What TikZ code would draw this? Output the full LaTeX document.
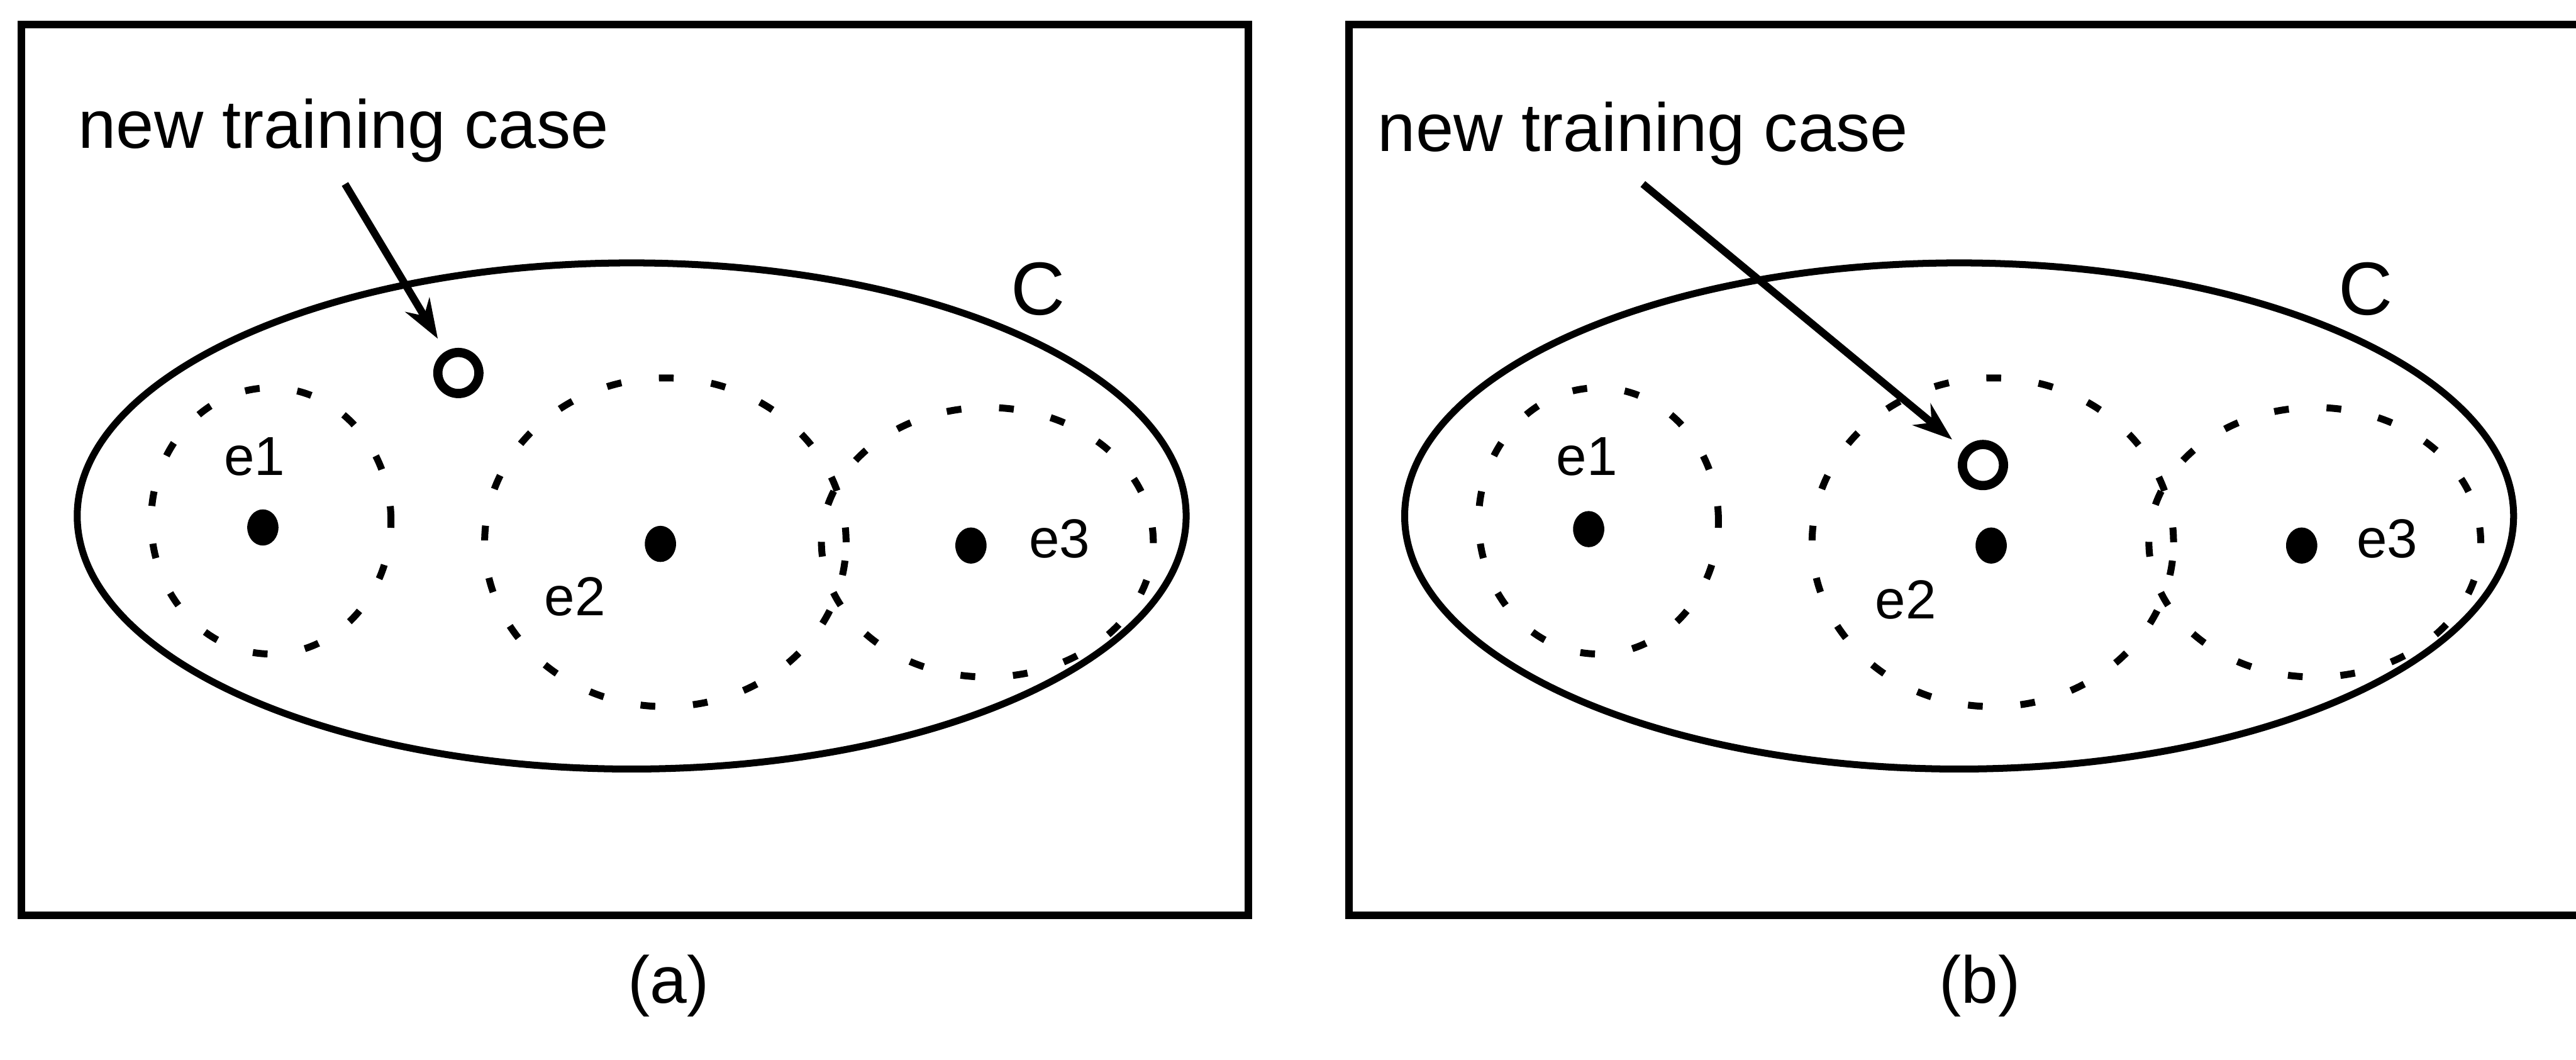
\documentclass[tikz,border=0pt]{standalone}
\usepackage{fontspec}
\setmainfont{Liberation Sans}
\usepackage{tikz}
\usetikzlibrary{arrows.meta,shapes.geometric}
\tikzset{
    panel/.style={draw=black, line width=1.3pt},
    concept/.style={ellipse, draw=black, line width=1.2pt, inner sep=0pt},
    exemplar/.style={ellipse, draw=black, line width=1.2pt, dash pattern=on 0.9mm off 2.3mm, inner sep=0pt},
    center_dot/.style={ellipse, fill=black, inner sep=0pt, minimum width=0.19cm, minimum height=0.22cm},
    newcase/.style={circle, draw=black, line width=1.6pt, inner sep=0pt, minimum size=0.25cm},
    pointer/.style={-{Stealth[length=2.4mm,width=1.7mm]}, line width=1.3pt, shorten >=0.09cm},
    caselabel/.style={font=\fontsize{11.8}{14}\selectfont, inner sep=0pt},
    elabel/.style={font=\fontsize{9.5}{11}\selectfont, inner sep=0pt},
    clabel/.style={font=\fontsize{13}{15}\selectfont, inner sep=0pt},
    caption/.style={font=\fontsize{11.5}{14}\selectfont, inner sep=0pt}
}

\begin{document}
\begin{tikzpicture}
  \useasboundingbox (0,0) rectangle (15.68,6.45);

  % Panel (a): new case outside every exemplar
  \draw[panel] (0.13,6.30) rectangle (7.60,0.88);
  \node[concept, minimum width=6.75cm, minimum height=3.08cm] (Ca) at (3.845,3.31) {};
  \node[clabel] (Clabela) at (6.32,4.69) {C};
  \node[exemplar, minimum width=1.46cm, minimum height=1.62cm] (ring1a) at (1.65,3.28) {};
  \node[exemplar, minimum width=2.20cm, minimum height=2.00cm] (ring2a) at (4.05,3.15) {};
  \node[exemplar, minimum width=2.02cm, minimum height=1.64cm] (ring3a) at (6.01,3.15) {};
  \node[center_dot] (dot1a) at (1.60,3.24) {};
  \node[center_dot] (dot2a) at (4.02,3.14) {};
  \node[center_dot] (dot3a) at (5.91,3.13) {};
  \node[elabel] (e1a) at (1.55,3.67) {e1};
  \node[elabel] (e2a) at (3.50,2.82) {e2};
  \node[elabel] (e3a) at (6.45,3.17) {e3};
  \node[caselabel, anchor=base west] (texta) at (0.47,5.55) {new training case};
  \coordinate (taila) at (2.10,5.33);
  \node[newcase] (casea) at (2.79,4.18) {};
  \draw[pointer] (taila) -- (casea);
  \node[caption] (capa) at (4.07,0.45) {(a)};

  % Panel (b): new case inside e2
  \draw[panel] (8.21,6.30) rectangle (15.80,0.88);
  \node[concept, minimum width=6.75cm, minimum height=3.08cm] (Cb) at (11.925,3.31) {};
  \node[clabel] (Clabelb) at (14.40,4.69) {C};
  \node[exemplar, minimum width=1.46cm, minimum height=1.62cm] (ring1b) at (9.73,3.28) {};
  \node[exemplar, minimum width=2.20cm, minimum height=2.00cm] (ring2b) at (12.13,3.15) {};
  \node[exemplar, minimum width=2.02cm, minimum height=1.64cm] (ring3b) at (14.09,3.15) {};
  \node[center_dot] (dot1b) at (9.67,3.23) {};
  \node[center_dot] (dot2b) at (12.12,3.13) {};
  \node[center_dot] (dot3b) at (14.01,3.13) {};
  \node[elabel] (e1b) at (9.66,3.67) {e1};
  \node[elabel] (e2b) at (11.60,2.80) {e2};
  \node[elabel] (e3b) at (14.53,3.17) {e3};
  \node[caselabel, anchor=base west] (textb) at (8.38,5.53) {new training case};
  \coordinate (tailb) at (10.00,5.33);
  \node[newcase] (caseb) at (12.07,3.62) {};
  \draw[pointer] (tailb) -- (caseb);
  \node[caption] (capb) at (12.05,0.45) {(b)};
\end{tikzpicture}
\end{document}
